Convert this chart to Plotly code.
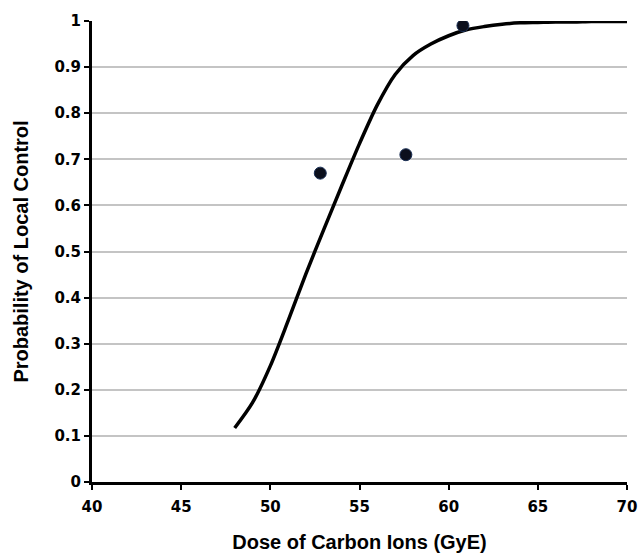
import plotly.graph_objects as go

# Fitted dose-response curve
curve_dose = [48, 49, 50, 51, 52, 53, 54, 55, 56, 57, 58, 59, 60, 61, 62, 63, 64, 65, 66, 67, 68, 69, 70]
curve_prob = [0.117, 0.172, 0.252, 0.35, 0.452, 0.548, 0.642, 0.734, 0.818, 0.884, 0.925, 0.95, 0.968, 0.981,
              0.988, 0.993, 0.996, 0.997, 0.998, 0.998, 0.999, 0.999, 0.999]

# Observed data points
obs_dose = [52.8, 57.6, 60.8]
obs_prob = [0.67, 0.71, 0.99]

x_ticks = [40, 45, 50, 55, 60, 65, 70]
y_ticks = [0, 0.1, 0.2, 0.3, 0.4, 0.5, 0.6, 0.7, 0.8, 0.9, 1]
y_tick_text = ["0", "0.1", "0.2", "0.3", "0.4", "0.5", "0.6", "0.7", "0.8", "0.9", "1"]

fig = go.Figure()
fig.add_trace(go.Scatter(x=curve_dose, y=curve_prob, mode="lines",
                         line=dict(color="black", width=3.5, shape="spline", smoothing=0.8),
                         showlegend=False))
fig.add_trace(go.Scatter(x=obs_dose, y=obs_prob, mode="markers",
                         marker=dict(color="#0b0f1c", size=12,
                                     line=dict(color="#1a2f55", width=1)),
                         showlegend=False))

tick_font = dict(family="DejaVu Sans, sans-serif", size=15, color="black", weight="bold")
title_font = dict(family="Liberation Sans, Arial, sans-serif", size=20, color="black")

fig.update_layout(
    width=639, height=554,
    margin=dict(l=92, r=12, t=21, b=72, autoexpand=False),
    plot_bgcolor="white", paper_bgcolor="white",
    xaxis=dict(range=[40, 70], tickvals=x_ticks, showgrid=False, automargin=False,
               showline=True, linecolor="black", linewidth=3,
               ticks="outside", ticklen=5, tickwidth=2, tickcolor="black",
               tickfont=tick_font, ticklabelstandoff=4,
               title=dict(text="<b>Dose of Carbon Ions (GyE)</b>", font=title_font, standoff=20),
               zeroline=False),
    yaxis=dict(range=[0, 1], tickvals=y_ticks, ticktext=y_tick_text, automargin=False,
               showgrid=True, gridcolor="#c4c4c4", gridwidth=1.5,
               showline=True, linecolor="black", linewidth=3,
               ticks="outside", ticklen=5, tickwidth=2, tickcolor="black",
               tickfont=tick_font,
               title=dict(text="<b>Probability of Local Control</b>", font=title_font, standoff=21),
               zeroline=False),
)

fig.write_html("out.html", config={"displayModeBar": False},
               post_script="document.body.style.margin='0';document.body.style.overflow='hidden';")
